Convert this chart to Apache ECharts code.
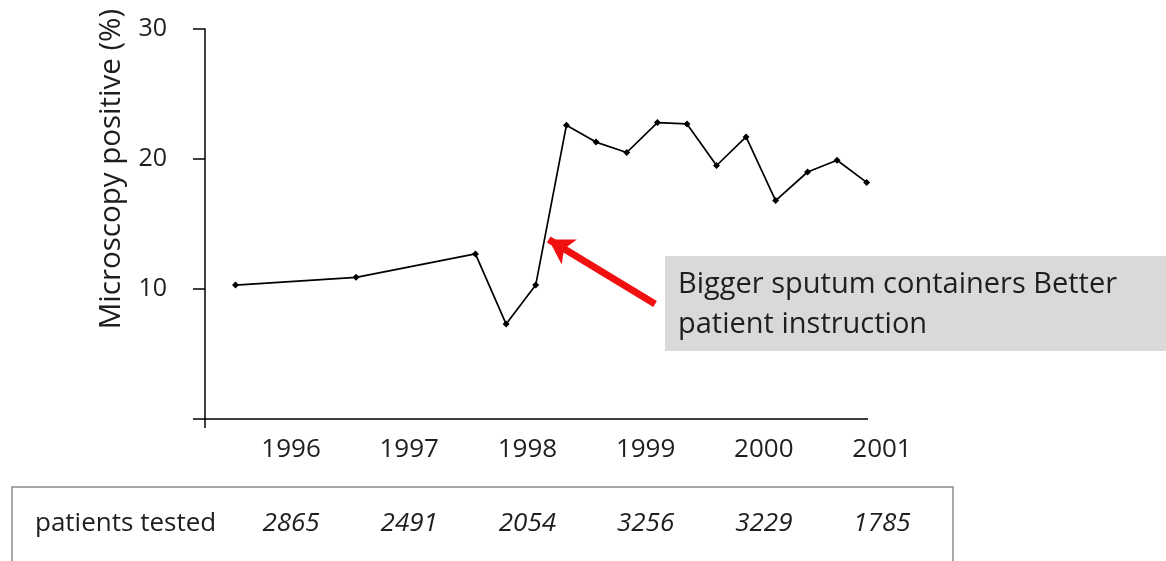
<!DOCTYPE html>
<html>
<head>
<meta charset="utf-8">
<script src="https://cdn.jsdelivr.net/npm/echarts@6/dist/echarts.min.js"></script>
<style>
  html, body { margin: 0; padding: 0; background: #fff; }
  #chart { width: 1166px; height: 561px; }
</style>
</head>
<body>
<div id="chart"></div>
<script>
// time position of each measurement (decimal year) and % microscopy positive
const sampleYears = [1995.53, 1996.55, 1997.56, 1997.82, 1998.07, 1998.33, 1998.58, 1998.84,
  1999.10, 1999.35, 1999.60, 1999.85, 2000.10, 2000.37, 2000.62, 2000.87]
const positivePct = [10.3, 10.9, 12.7, 7.3, 10.3, 22.6, 21.3, 20.5,
  22.8, 22.7, 19.5, 21.7, 16.8, 19.0, 19.9, 18.2]

const yearLabels = [1996, 1997, 1998, 1999, 2000, 2001]
const patientsTested = [2865, 2491, 2054, 3256, 3229, 1785]
const yTicks = [0, 10, 20, 30]

// arrow pointing at the jump in 1998
const arrowFrom = [1999.08, 8.85]
const arrowTo = [1998.18, 13.8]

const XMIN = 1995.272
const XMAX = 2001
const XAXIS_END = 2000.882 // the drawn x axis stops short of the 2001 label
const FONT = '"Open Sans", "DejaVu Sans", sans-serif'
const TEXT = '#1e1e1e'

const chart = echarts.init(document.getElementById('chart'))

chart.setOption({
  animation: false,
  backgroundColor: '#fff',
  grid: { left: 205, right: 284, top: 29, bottom: 142, containLabel: false },
  xAxis: [
    {
      type: 'value',
      min: XMIN,
      max: XMAX,
      axisLine: { show: false },
      axisTick: { show: true, customValues: [XMIN], length: 9, lineStyle: { color: '#000', width: 1.5 } },
      splitLine: { show: false },
      axisLabel: {
        customValues: yearLabels,
        margin: 18,
        color: TEXT,
        fontSize: 26,
        fontFamily: FONT,
        formatter: v => String(Math.round(v))
      }
    },
    {
      type: 'value',
      position: 'bottom',
      min: XMIN,
      max: XMAX,
      axisLine: { show: false },
      axisTick: { show: false },
      splitLine: { show: false },
      axisLabel: {
        customValues: yearLabels,
        margin: 92,
        color: TEXT,
        fontSize: 26,
        fontStyle: 'italic',
        fontFamily: FONT,
        formatter: v => {
          const i = yearLabels.indexOf(Math.round(v))
          return i >= 0 ? String(patientsTested[i]) : ''
        }
      }
    }
  ],
  yAxis: {
    type: 'value',
    min: yTicks[0],
    max: yTicks[yTicks.length - 1],
    interval: 10,
    axisLine: { show: true, lineStyle: { color: '#000', width: 1.5 } },
    axisTick: { show: true, length: 12, lineStyle: { color: '#000', width: 1.5 } },
    splitLine: { show: false },
    axisLabel: {
      margin: 38,
      color: TEXT,
      fontSize: 25,
      fontFamily: FONT,
      formatter: v => (v === 0 ? '' : String(v))
    }
  },
  series: [
    {
      type: 'line',
      clip: false,
      data: sampleYears.map((x, i) => [x, positivePct[i]]),
      symbol: 'diamond',
      symbolSize: 7,
      showSymbol: true,
      lineStyle: { color: '#000', width: 1.7 },
      itemStyle: { color: '#000' },
      markLine: {
        silent: true,
        symbol: 'none',
        label: { show: false },
        data: [
          // x axis line
          [
            { coord: [XMIN, 0], symbol: 'none', lineStyle: { color: '#000', width: 1.5, type: 'solid' } },
            { coord: [XAXIS_END, 0], symbol: 'none' }
          ],
          // red arrow
          [
            { coord: arrowFrom, symbol: 'none', lineStyle: { color: '#f01010', width: 7, type: 'solid' } },
            { coord: arrowTo, symbol: 'arrow', symbolSize: [22, 24] }
          ]
        ]
      }
    }
  ],
  graphic: [
    {
      type: 'text',
      x: 112,
      y: 169,
      rotation: Math.PI / 2,
      style: {
        text: 'Microscopy positive (%)',
        align: 'center',
        verticalAlign: 'middle',
        fill: TEXT,
        font: '29.5px ' + FONT
      }
    },
    {
      type: 'rect',
      shape: { x: 665, y: 256, width: 501, height: 95 },
      style: { fill: '#d9d9d9' }
    },
    {
      type: 'text',
      x: 678,
      y: 285,
      style: {
        text: 'Bigger sputum containers Better',
        verticalAlign: 'middle',
        fill: TEXT,
        font: '29px ' + FONT
      }
    },
    {
      type: 'text',
      x: 678,
      y: 325,
      style: {
        text: 'patient instruction',
        verticalAlign: 'middle',
        fill: TEXT,
        font: '29px ' + FONT
      }
    },
    {
      type: 'polyline',
      shape: { points: [[12, 561], [12, 487], [953, 487], [953, 561]] },
      style: { stroke: '#8a8a8a', lineWidth: 1.5, fill: null }
    },
    {
      type: 'text',
      x: 35,
      y: 524,
      style: {
        text: 'patients tested',
        verticalAlign: 'middle',
        fill: TEXT,
        font: '26px ' + FONT
      }
    }
  ]
})
</script>
</body>
</html>
